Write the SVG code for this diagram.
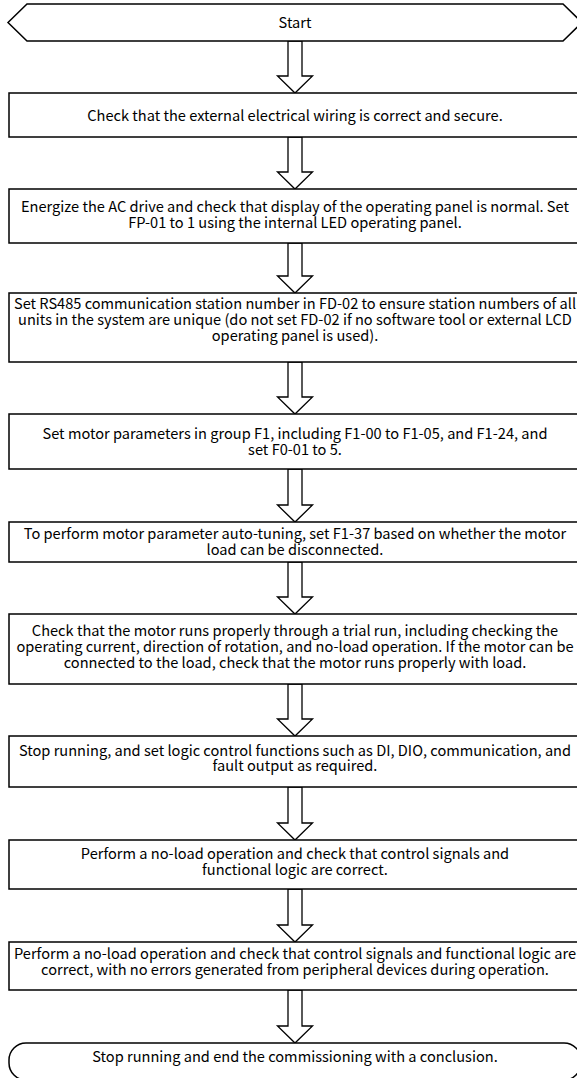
<svg xmlns="http://www.w3.org/2000/svg" width="577" height="1078" viewBox="0 0 577 1078">
<style>
.n{fill:#fff;stroke:#000;stroke-width:1.5}
.a{fill:#fff;stroke:#000;stroke-width:1.3;stroke-linejoin:miter}
text{font-family:"Noto Sans CJK SC","Noto Sans",sans-serif;font-size:14.6px;fill:#000;text-anchor:middle}
</style>
<rect width="577" height="1078" fill="#fff"/>
<g id="connectors">
<polygon class="a" points="288,41 302,41 302,76 312.5,76 295,93 277.5,76 288,76"/>
<polygon class="a" points="288,137 302,137 302,172 312.5,172 295,189 277.5,172 288,172"/>
<polygon class="a" points="288,243 302,243 302,276 312.5,276 295,293 277.5,276 288,276"/>
<polygon class="a" points="288,362 302,362 302,397 312.5,397 295,414 277.5,397 288,397"/>
<polygon class="a" points="288,469 302,469 302,505 312.5,505 295,522 277.5,505 288,505"/>
<polygon class="a" points="288,562 302,562 302,597 312.5,597 295,614 277.5,597 288,597"/>
<polygon class="a" points="288,684 302,684 302,719 312.5,719 295,736 277.5,719 288,719"/>
<polygon class="a" points="288,787 302,787 302,823 312.5,823 295,840 277.5,823 288,823"/>
<polygon class="a" points="288,889 302,889 302,925 312.5,925 295,942 277.5,925 288,925"/>
<polygon class="a" points="288,990 302,990 302,1026 312.5,1026 295,1043 277.5,1026 288,1026"/>
</g>
<g id="start">
<polygon class="n" points="8,22.5 27,4 563,4 582,22.5 563,41 27,41"/>
<text x="295" y="27.5">Start</text>
</g>
<g id="step1">
<rect class="n" x="9" y="93" width="572" height="44"/>
<text x="295" y="120.5">Check that the external electrical wiring is correct and secure.</text>
</g>
<g id="step2">
<rect class="n" x="9" y="189" width="572" height="54"/>
<text x="295" y="211.5"><tspan x="295">Energize the AC drive and check that display of the operating panel is normal. Set</tspan><tspan x="295" dy="16">FP-01 to 1 using the internal LED operating panel.</tspan></text>
</g>
<g id="step3">
<rect class="n" x="9" y="293" width="572" height="69"/>
<text x="295" y="308.5"><tspan x="295">Set RS485 communication station number in FD-02 to ensure station numbers of all</tspan><tspan x="295" dy="16">units in the system are unique (do not set FD-02 if no software tool or external LCD</tspan><tspan x="295" dy="16">operating panel is used).</tspan></text>
</g>
<g id="step4">
<rect class="n" x="9" y="414" width="572" height="55"/>
<text x="295" y="438.5"><tspan x="295">Set motor parameters in group F1, including F1-00 to F1-05, and F1-24, and</tspan><tspan x="295" dy="16">set F0-01 to 5.</tspan></text>
</g>
<g id="step5">
<rect class="n" x="9" y="522" width="572" height="40"/>
<text x="295" y="538.5"><tspan x="295">To perform motor parameter auto-tuning, set F1-37 based on whether the motor</tspan><tspan x="295" dy="16">load can be disconnected.</tspan></text>
</g>
<g id="step6">
<rect class="n" x="9" y="614" width="572" height="70"/>
<text x="295" y="635.5"><tspan x="295">Check that the motor runs properly through a trial run, including checking the</tspan><tspan x="295" dy="16">operating current, direction of rotation, and no-load operation. If the motor can be</tspan><tspan x="295" dy="16">connected to the load, check that the motor runs properly with load.</tspan></text>
</g>
<g id="step7">
<rect class="n" x="9" y="736" width="572" height="51"/>
<text x="295" y="755.5"><tspan x="295">Stop running, and set logic control functions such as DI, DIO, communication, and</tspan><tspan x="295" dy="15.5">fault output as required.</tspan></text>
</g>
<g id="step8">
<rect class="n" x="9" y="840" width="572" height="49"/>
<text x="295" y="858.5"><tspan x="295">Perform a no-load operation and check that control signals and</tspan><tspan x="295" dy="16">functional logic are correct.</tspan></text>
</g>
<g id="step9">
<rect class="n" x="9" y="942" width="572" height="48"/>
<text x="295" y="958.5"><tspan x="295">Perform a no-load operation and check that control signals and functional logic are</tspan><tspan x="295" dy="16">correct, with no errors generated from peripheral devices during operation.</tspan></text>
</g>
<g id="end">
<rect class="n" x="9" y="1043" width="572" height="37" rx="17" ry="17"/>
<text x="295" y="1061.5">Stop running and end the commissioning with a conclusion.</text>
</g>
</svg>
